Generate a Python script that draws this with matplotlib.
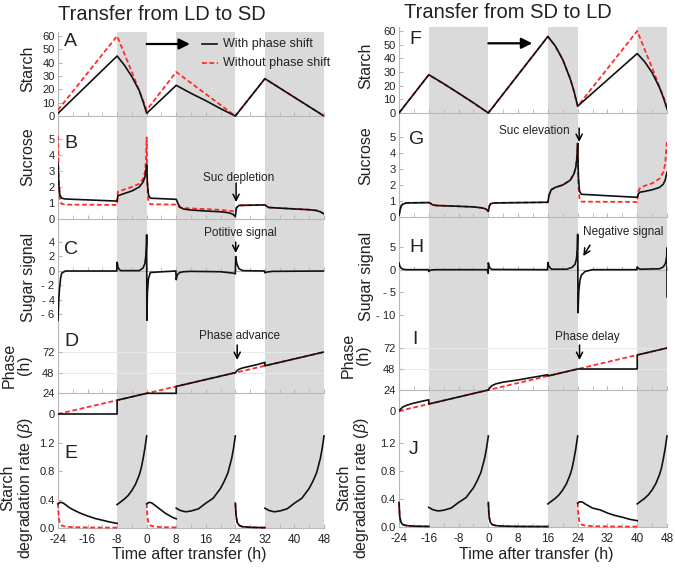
import numpy as np
import matplotlib
matplotlib.use('Agg')
import matplotlib.pyplot as plt
from matplotlib.lines import Line2D

plt.rcParams['font.family'] = ['Liberation Sans', 'DejaVu Sans']
plt.rcParams['mathtext.fontset'] = 'custom'
plt.rcParams['mathtext.it'] = 'Liberation Sans:italic'
plt.rcParams['mathtext.rm'] = 'Liberation Sans'

nan = np.nan
W, H = 675, 569

# ------------------------------------------------------------------ data
x_major = [-24, -16, -8, 0, 8, 16, 24, 32, 40, 48]
x_minor = [-20, -12, -4, 4, 12, 20, 28, 36, 44]
dark_left = [(-8, 0), (8, 24), (32, 48)]
dark_right = [(-16, 0), (16, 24), (40, 48)]

# ---- Left: transfer LD -> SD
A_t_black = [-24, -8, -6, -4, -2, -1, 0, 8, 12, 16, 20, 24, 32, 36, 40, 44, 48]
A_black = [2, 45, 38, 29.5, 19, 11, 2, 23, 17, 11.5, 5.5, 0, 28, 21, 14, 7, 0]
A_t_red = [-24, -8, -4, 0, 8, 16, 24, 32, 40, 48]
A_red = [4.5, 60, 33, 4.5, 33, 16.5, 0, 28, 14, 0]

B_t_black = [-24, -23.8, -23.5, -23, -22, -8, -7.8, -6, -4, -2, -1, -0.5, -0.2, 0,
             0.2, 0.5, 1, 8, 8.5, 9, 10, 12, 16, 20, 22, 23, 23.6, 24, 24.3, 25,
             32, 32.5, 33, 36, 40, 44, 46, 47, 48]
B_black = [3.5, 2.2, 1.5, 1.3, 1.25, 1.12, 1.45, 1.6, 1.75, 2.0, 2.3, 2.6, 3.0, 3.4,
           2.2, 1.5, 1.3, 1.23, 0.95, 0.75, 0.62, 0.56, 0.5, 0.45, 0.4, 0.33, 0.25, 0.15, 0.7, 0.85,
           0.88, 0.8, 0.72, 0.68, 0.63, 0.58, 0.53, 0.45, 0.32]
B_t_red = [-24, -23.8, -23.5, -23, -22, -8, -7.8, -6, -4, -2, -1, -0.5, -0.2, 0,
           0.15, 0.4, 1, 8, 8.5, 9, 10, 16, 20, 23, 24, 24.3, 25,
           32, 32.5, 33, 36, 40, 44, 46, 47, 48]
B_red = [5.2, 2.5, 1.3, 0.95, 0.9, 0.88, 1.7, 1.85, 2.0, 2.2, 2.5, 2.9, 3.6, 5.1,
         2.5, 1.2, 0.92, 0.9, 0.8, 0.72, 0.68, 0.62, 0.57, 0.5, 0.45, 0.7, 0.85,
         0.88, 0.8, 0.72, 0.68, 0.63, 0.58, 0.53, 0.45, 0.32]

C_t = [-24, -23.8, -23.6, -23.3, -23, -22, -8.1, -8, -7.8, -7.5, -7, -2, -1, -0.5, -0.2,
       -0.05, 0, 0.05, 0.2, 0.5, 1, 7.9, 8, 8.2, 8.5, 9, 10, 12, 20, 23.5, 24, 24.1,
       24.4, 25, 26, 31.9, 32, 32.5, 34, 48]
C_signal = [-6.8, -4, -2.5, -1, -0.3, 0, 0, 1.2, 0.6, 0.25, 0.05, 0.05, 0.4, 1.0, 2.2,
            3.6, 5.0, -6.8, -3, -1, -0.2, 0, -1.2, -0.7, -0.4, -0.2, -0.1, -0.05, -0.1, -0.3, -0.4, 2.0,
            1.0, 0.3, 0.05, 0, -0.25, -0.15, -0.05, 0]

D_t_black = [-24, -8, -8, 0, 8, 8, 24, 24.5, 25, 26, 28, 30, 32, 32, 48]
D_black = [0, 0, 16, 24, 24, 32, 48, 50.5, 52, 53.5, 55.5, 57.5, 60, 56, 72]
D_t_red = [-24, 48]
D_red = [0, 72]

E_t_black = [-24, -23.5, -23, -22.5, -22, -21, -20, -18, -16, -14, -12, -10, -8, nan,
             -8, -7, -6, -5, -4, -3, -2, -1.5, -1, -0.5, 0, nan,
             0, 0.5, 1, 1.5, 2, 3, 4, 5, 6, 7, 8, nan,
             8, 9, 10, 10.5, 11, 12, 14, 16, 18, 20, 21, 22, 23, 23.5, 24, nan,
             24, 24.2, 24.5, 25, 25.5, 26, 28, 30, 32, nan,
             32, 33, 34, 34.5, 35, 36, 38, 40, 42, 44, 45, 46, 47, 47.5, 48]
E_black = [0.34, 0.36, 0.36, 0.35, 0.33, 0.29, 0.26, 0.21, 0.17, 0.135, 0.11, 0.085, 0.065, nan,
           0.33, 0.37, 0.41, 0.46, 0.53, 0.62, 0.75, 0.84, 0.97, 1.12, 1.3, nan,
           0.34, 0.36, 0.36, 0.35, 0.33, 0.29, 0.25, 0.21, 0.18, 0.15, 0.13, nan,
           0.28, 0.25, 0.235, 0.23, 0.232, 0.24, 0.27, 0.35, 0.42, 0.56, 0.66, 0.78, 0.98, 1.12, 1.3, nan,
           0.35, 0.18, 0.08, 0.04, 0.025, 0.018, 0.01, 0.007, 0.005, nan,
           0.28, 0.25, 0.235, 0.23, 0.232, 0.24, 0.27, 0.35, 0.42, 0.56, 0.66, 0.78, 0.98, 1.12, 1.3]
E_t_red = [-24, -23.8, -23.5, -23, -22, -20, -16, -8, nan,
           0, 0.2, 0.5, 1, 2, 4, 8, nan,
           24, 24.2, 24.5, 25, 25.5, 26, 28, 30, 32]
E_red = [0.35, 0.15, 0.07, 0.035, 0.02, 0.012, 0.008, 0.005, nan,
         0.35, 0.15, 0.07, 0.035, 0.02, 0.012, 0.008, nan,
         0.35, 0.18, 0.08, 0.04, 0.025, 0.018, 0.01, 0.007, 0.005]

# ---- Right: transfer SD -> LD
F_t_black = [-24, -16, -12, -8, -4, 0, 16, 18, 20, 22, 23, 24, 40, 42, 44, 46, 47, 48]
F_black = [0, 28, 21.5, 14.5, 7.5, 0, 56, 49, 39, 25, 16, 5, 43.5, 37.5, 29.5, 18.5, 11.5, 3]
F_t_red = [-24, -16, -8, 0, 16, 18, 20, 22, 23, 24, 40, 44, 48]
F_red = [0, 28, 14.5, 0, 56, 49, 39, 25, 16, 5, 60, 33, 5]

G_t_black = [-24, -23.7, -23.4, -23, -22, -16, -15.5, -15, -14, -8, -4, -2, -1, -0.5, 0,
             0.3, 0.6, 1, 2, 16, 16.3, 16.7, 17, 18, 20, 22, 23, 23.5, 23.8, 24, 24.2,
             24.5, 25, 32, 40, 40.3, 40.7, 42, 44, 46, 47, 47.5, 48]
G_black = [0.1, 0.45, 0.7, 0.8, 0.88, 0.9, 0.85, 0.76, 0.72, 0.67, 0.63, 0.58, 0.53, 0.47, 0.35,
           0.7, 0.82, 0.86, 0.88, 0.92, 1.35, 1.6, 1.72, 1.85, 2.0, 2.3, 2.7, 3.1, 3.7, 4.6, 2.5,
           1.6, 1.42, 1.33, 1.23, 1.45, 1.55, 1.6, 1.7, 1.85, 2.05, 2.3, 2.8]
G_t_red = [-24, -23.7, -23.4, -23, -22, -16, -15.5, -15, -14, -8, -4, -2, -1, -0.5, 0,
           0.3, 0.6, 1, 2, 16, 16.3, 16.7, 17, 18, 20, 22, 23, 23.5, 23.8, 24, 24.2,
           24.5, 25, 32, 40, 40.3, 40.7, 42, 44, 46, 47, 47.5, 48]
G_red = [0.1, 0.45, 0.7, 0.8, 0.88, 0.9, 0.85, 0.76, 0.72, 0.67, 0.63, 0.58, 0.53, 0.47, 0.35,
         0.7, 0.82, 0.86, 0.88, 0.92, 1.35, 1.6, 1.72, 1.85, 2.0, 2.3, 2.7, 3.1, 3.7, 4.6, 2.0,
         1.1, 0.96, 0.95, 0.94, 1.6, 1.8, 1.95, 2.1, 2.4, 2.8, 3.3, 4.8]

H_t = [-24, -23.8, -23.5, -23, -22, -16.1, -16, -15.8, -15.3, -14, -0.3, -0.05, 0, 0.2, 0.5, 1,
       15.9, 16, 16.2, 16.6, 17, 21, 22.5, 23.3, 23.7, 23.9, 24, 24.1, 24.3, 24.6, 25, 26, 28,
       39.9, 40, 40.3, 40.8, 46, 47, 47.6, 47.9, 48, 48]
H_signal = [1.5, 0.8, 0.4, 0.1, 0, 0, -0.4, -0.2, -0.05, 0, 0, -0.8, 1.5, 0.8, 0.3, 0.05,
            0, 1.6, 0.9, 0.4, 0.1, 0.1, 0.5, 1.2, 2.5, 4.5, 7.8, -9.5, -4.8, -2.4, -1.2, -0.4, 0,
            0, 0.6, 0.3, 0.1, 0.2, 0.6, 1.4, 2.8, 4.8, -6]

I_t_black = [-24, -23.5, -23, -22, -20, -18, -16, -16, 0, 0.5, 1, 2, 4, 8, 12, 16, 16, 24, 40, 40, 48]
I_black = [0, 2.5, 4.5, 6.5, 9, 11, 12.8, 8, 24, 27, 29, 31, 33, 35.5, 38.5, 41.5, 40, 48, 48, 64, 72]
I_t_red = [-24, 48]
I_red = [0, 72]

J_t_black = [-24, -23.8, -23.5, -23, -22, -20, -16, nan,
             -16, -15, -14, -13.5, -13, -12, -10, -8, -6, -4, -3, -2, -1, -0.5, 0, nan,
             0, 0.2, 0.5, 1, 2, 4, 8, 16, nan,
             16, 17, 18, 19, 20, 21, 22, 22.5, 23, 23.5, 24, nan,
             24, 24.5, 25, 25.5, 26, 27, 28, 30, 32, 34, 36, 38, 40, nan,
             40, 41, 42, 43, 44, 45, 46, 46.5, 47, 47.5, 48]
J_black = [0.35, 0.15, 0.07, 0.035, 0.02, 0.012, 0.008, nan,
           0.28, 0.25, 0.235, 0.23, 0.232, 0.24, 0.27, 0.35, 0.42, 0.56, 0.66, 0.78, 0.98, 1.12, 1.3, nan,
           0.35, 0.15, 0.07, 0.035, 0.02, 0.012, 0.008, 0.006, nan,
           0.33, 0.37, 0.41, 0.46, 0.53, 0.62, 0.75, 0.84, 0.97, 1.12, 1.3, nan,
           0.34, 0.36, 0.36, 0.35, 0.33, 0.3, 0.27, 0.245, 0.2, 0.165, 0.14, 0.11, 0.09, nan,
           0.33, 0.37, 0.41, 0.46, 0.53, 0.62, 0.75, 0.84, 0.97, 1.12, 1.3]
J_t_red = [-24, -23.8, -23.5, -23, -22, -20, -16, nan,
           0, 0.2, 0.5, 1, 2, 4, 8, 16, nan,
           24, 24.2, 24.5, 25, 26, 28, 32, 40]
J_red = [0.35, 0.15, 0.07, 0.035, 0.02, 0.012, 0.008, nan,
         0.35, 0.15, 0.07, 0.035, 0.02, 0.012, 0.008, 0.006, nan,
         0.35, 0.15, 0.07, 0.035, 0.02, 0.012, 0.008, 0.006]

# ------------------------------------------------------------------ style
GRAY = '#dadada'
AXC = '#b8b8b8'
RED = '#ff2a2a'
BLK = '#111111'
TXT = '#222222'
DASH = (0, (2.6, 1.5))

fig = plt.figure(figsize=(W / 100, H / 100), dpi=100)


def make_ax(xl, xr, top, bot, v0, p0, v1, p1):
    s = (p0 - p1) / (v1 - v0)
    ymax = v0 + (p0 - top) / s
    ymin = v0 - (bot - p0) / s
    ax = fig.add_axes([xl / W, 1 - bot / H, (xr - xl) / W, (bot - top) / H])
    ax.set_xlim(-24, 48)
    ax.set_ylim(ymin, ymax)
    ax.patch.set_visible(False)
    return ax


def style(ax, dark, origin, yticks, ylabels, show_x=False, grid=None):
    for a, b in dark:
        ax.axvspan(a, b, color=GRAY, lw=0, zorder=0)
    if grid:
        for g in grid:
            ax.axhline(g, color='#e8e8e8', lw=0.7, zorder=0.5)
    ax.spines['top'].set_visible(False)
    ax.spines['right'].set_visible(False)
    ax.spines['left'].set_color(AXC)
    ax.spines['left'].set_linewidth(0.8)
    ax.spines['bottom'].set_color(AXC)
    ax.spines['bottom'].set_linewidth(0.8)
    ax.spines['bottom'].set_position(('data', origin))
    ax.set_xticks(x_major)
    ax.set_xticks(x_minor, minor=True)
    ax.tick_params(axis='x', which='both', direction='in', length=3, color=AXC,
                   labelsize=8.5, pad=4, labelcolor=TXT, labelbottom=show_x)
    ax.set_yticks(yticks)
    ax.set_yticklabels(ylabels)
    ax.tick_params(axis='y', direction='in', length=3, color=AXC, labelsize=8,
                   pad=2.5, labelcolor=TXT)
    if show_x:
        ax.set_xticklabels([str(v) for v in x_major])


def plot_pair(ax, tr, yr, tb, yb, clip=True):
    if tr is not None:
        ax.plot(tr, yr, color=RED, lw=1.3, ls=DASH, zorder=3, clip_on=clip)
    ax.plot(tb, yb, color=BLK, lw=1.2, zorder=4, clip_on=clip)


def ftext(x, y, s, **kw):
    fig.text(x / W, 1 - y / H, s, **kw)


# ---------------- left column
LX0, LX1 = 58, 324
axA = make_ax(LX0, LX1, 32, 120, 0, 116, 60, 36)
axB = make_ax(LX0, LX1, 120, 225, 0, 219, 5, 139)
axC = make_ax(LX0, LX1, 225, 328, 0, 271, 4, 242)
axD = make_ax(LX0, LX1, 328, 432, 0, 414, 72, 352)
axE = make_ax(LX0, LX1, 432, 528, 0, 528, 1.2, 443)

style(axA, dark_left, 0, [0, 10, 20, 30, 40, 50, 60], ['0', '10', '20', '30', '40', '50', '60'])
style(axB, dark_left, 0, [0, 1, 2, 3, 4, 5], ['0', '1', '2', '3', '4', '5'])
style(axC, dark_left, 0, [-6, -4, -2, 0, 2, 4], ['- 6', '- 4', '- 2', '0', '2', '4'])
style(axD, dark_left, 24, [0, 24, 48, 72], ['0', '24', '48', '72'], grid=[48, 72])
style(axE, dark_left, 0, [0, 0.4, 0.8, 1.2], ['0.0', '0.4', '0.8', '1.2'], show_x=True)

plot_pair(axA, A_t_red, A_red, A_t_black, A_black)
plot_pair(axB, B_t_red, B_red, B_t_black, B_black)
plot_pair(axC, None, None, C_t, C_signal)
plot_pair(axD, D_t_red, D_red, D_t_black, D_black)
plot_pair(axE, E_t_red, E_red, E_t_black, E_black, clip=False)

# ---------------- right column
RX0, RX1 = 399, 667
axF = make_ax(RX0, RX1, 27, 117, 0, 113, 60, 31)
axG = make_ax(RX0, RX1, 117, 222, 0, 217, 5, 137)
axH = make_ax(RX0, RX1, 222, 326, 5, 247, -10, 315)
axI = make_ax(RX0, RX1, 326, 430, 0, 411, 72, 348)
axJ = make_ax(RX0, RX1, 430, 527, 0, 527, 1.2, 443)

style(axF, dark_right, 0, [0, 10, 20, 30, 40, 50, 60], ['0', '10', '20', '30', '40', '50', '60'])
style(axG, dark_right, 0, [0, 1, 2, 3, 4, 5], ['0', '1', '2', '3', '4', '5'])
style(axH, dark_right, 0, [-10, -5, 0, 5], ['- 10', '- 5', '0', '5'])
style(axI, dark_right, 24, [0, 24, 48, 72], ['0', '24', '48', '72'], grid=[48, 72])
style(axJ, dark_right, 0, [0, 0.4, 0.8, 1.2], ['0.0', '0.4', '0.8', '1.2'], show_x=True)

plot_pair(axF, F_t_red, F_red, F_t_black, F_black)
plot_pair(axG, G_t_red, G_red, G_t_black, G_black)
plot_pair(axH, None, None, H_t, H_signal)
plot_pair(axI, I_t_red, I_red, I_t_black, I_black)
plot_pair(axJ, J_t_red, J_red, J_t_black, J_black, clip=False)

# ---------------- titles, labels
ftext(162, 14, 'Transfer from LD to SD', ha='center', va='center', fontsize=14.5, color=TXT)
ftext(508, 13, 'Transfer from SD to LD', ha='center', va='center', fontsize=14.5, color=TXT)

lab = dict(ha='center', va='center', rotation=90, fontsize=11.5, color=TXT, linespacing=1.05)
ftext(28, 69, 'Starch', **lab)
ftext(28, 157, 'Sucrose', **lab)
ftext(28, 277, 'Sugar signal', **lab)
ftext(17, 365, 'Phase\n(h)', **lab)
ftext(18, 488, 'Starch\ndegradation rate ($\\it{\\beta}$)', **lab)
ftext(366, 66, 'Starch', **lab)
ftext(366, 156, 'Sucrose', **lab)
ftext(366, 276, 'Sugar signal', **lab)
ftext(356, 355, 'Phase\n(h)', **lab)
ftext(354, 488, 'Starch\ndegradation rate ($\\it{\\beta}$)', **lab)

ftext(189, 555, 'Time after transfer (h)', ha='center', va='center', fontsize=11.5, color=TXT)
ftext(536, 555, 'Time after transfer (h)', ha='center', va='center', fontsize=11.5, color=TXT)

letter = dict(ha='left', va='center', fontsize=14, color=TXT)
for (x, y, s) in [(64, 42, 'A'), (64, 143, 'B'), (64, 249, 'C'), (64, 341, 'D'), (64, 454, 'E'),
                  (409, 39, 'F'), (409, 140, 'G'), (409, 247, 'H'), (412, 339, 'I'), (409, 450, 'J')]:
    ftext(x, y, s, **letter)

# legend
fig.add_artist(Line2D([202 / W, 217 / W], [1 - 44 / H, 1 - 44 / H], color=BLK, lw=1.2))
fig.add_artist(Line2D([202 / W, 218 / W], [1 - 63 / H, 1 - 63 / H], color=RED, lw=1.3, ls=DASH))
ftext(223, 44, 'With phase shift', ha='left', va='center', fontsize=9, color=TXT)
ftext(223, 63, 'Without phase shift', ha='left', va='center', fontsize=9, color=TXT)

# big arrows
big = dict(arrowstyle='-|>', color='black', lw=1.6, mutation_scale=16, shrinkA=0, shrinkB=0)
axA.annotate('', xy=(11.7, 54), xytext=(0, 54), arrowprops=big)
axF.annotate('', xy=(11.8, 51), xytext=(0, 51), arrowprops=big)

# annotations
small = dict(arrowstyle='->', color='black', lw=1.1, mutation_scale=11, shrinkA=0, shrinkB=0)
ann = dict(ha='center', va='center', fontsize=8.5, color=TXT)
axB.text(25, 2.56, 'Suc depletion', **ann)
axB.annotate('', xy=(24.2, 1.06), xytext=(24.2, 2.25), arrowprops=small)
axC.text(25.3, 5.24, 'Potitive signal', **ann)
axC.annotate('', xy=(24.1, 2.48), xytext=(24.1, 4.0), arrowprops=small)
axD.text(25, 90.6, 'Phase advance', **ann)
axD.annotate('', xy=(24.5, 62.7), xytext=(24.5, 80.1), arrowprops=small)
axG.text(12.3, 5.375, 'Suc elevation', **ann)
axG.annotate('', xy=(24.4, 4.69), xytext=(24.4, 5.56), arrowprops=small)
axH.text(36.2, 8.3, 'Negative signal', **ann)
axH.annotate('', xy=(25.5, 3.0), xytext=(27.3, 5.4), arrowprops=small)
axI.text(26.5, 84.6, 'Phase delay', **ann)
axI.annotate('', xy=(24.5, 58.3), xytext=(24.5, 75.4), arrowprops=small)

fig.savefig('out.png', dpi=100)
